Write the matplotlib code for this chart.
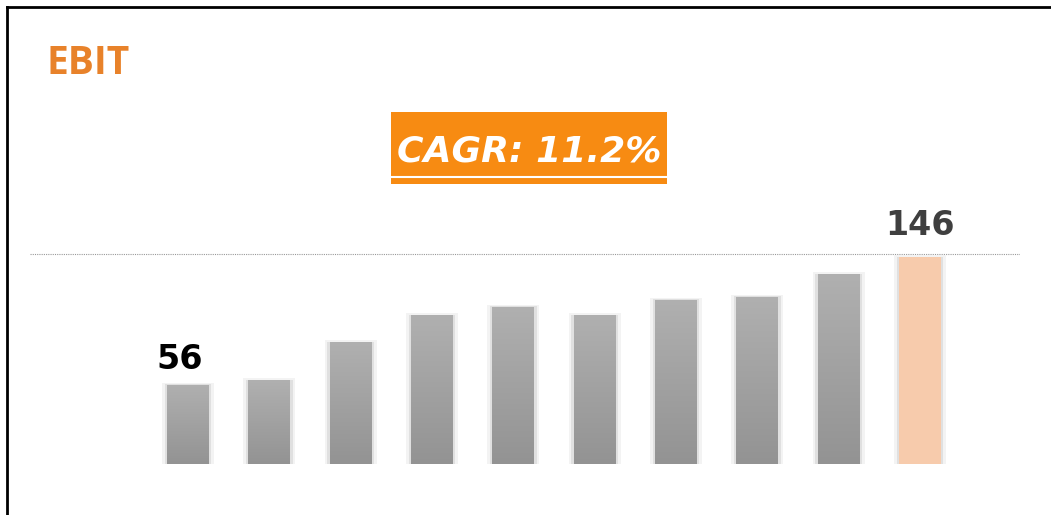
import matplotlib
matplotlib.use("Agg")
from matplotlib import pyplot as plt
from matplotlib.patches import Rectangle
import numpy as np

# EBIT per year
years = list(range(10))
ebit = [56, 59, 86, 105, 111, 105, 116, 118, 134, 146]
title = "EBIT"
cagr_text = "CAGR: 11.2%"
labels = {0: "56", 9: "146"}

W, H = 1051, 515
fig = plt.figure(figsize=(W / 100, H / 100), dpi=100)
fig.patch.set_facecolor("white")

# axes: value 0 at pixel 464, pixel spacing ~1.416 per unit
ax = fig.add_axes([30 / W, (H - 464) / H, 990 / W, 300 / H])
ax.set_xlim(-1.943, 10.23)
ax.set_ylim(0, 300 / 1.4158)
ax.axis("off")

bw = 0.516
grad = np.linspace(0, 1, 256).reshape(-1, 1)
cmap = matplotlib.colors.LinearSegmentedColormap.from_list("g", ["#939393", "#b0b0b0"])
for i, (x, v) in enumerate(zip(years, ebit)):
    # soft halo
    ax.add_patch(Rectangle((x - bw / 2 - 0.06, 0), bw + 0.12, v + 1.5,
                           facecolor="#f3f3f3", edgecolor="none", zorder=1))
    ax.add_patch(Rectangle((x - bw / 2 - 0.03, 0), bw + 0.06, v + 0.5,
                           facecolor="#e0e0e0", edgecolor="none", zorder=1))
    if i == len(ebit) - 1:
        ax.add_patch(Rectangle((x - bw / 2, 0), bw, v,
                               facecolor="#f7cbac", edgecolor="none", zorder=2))
    else:
        img = ax.imshow(grad, cmap=cmap, origin="lower",
                        extent=[x - bw / 2, x + bw / 2, 0, v], aspect="auto", zorder=2)
        clip = Rectangle((x - bw / 2, 0), bw, v, transform=ax.transData)
        img.set_clip_path(clip)

ax.axhline(148, color="#999999", lw=0.8, ls=(0, (1, 1)), zorder=0)

ax.text(years[0] - 0.1, ebit[0] + 6, labels[0], ha="center", va="bottom",
        fontsize=24, fontweight="bold", color="black", family="DejaVu Sans")
ax.text(years[9], ebit[9] + 11, labels[9], ha="center", va="bottom",
        fontsize=24, fontweight="bold", color="#3f3f3f", family="DejaVu Sans")

fig.text(46 / W, 1 - 63 / H, title, ha="left", va="center", fontsize=28,
         fontweight="bold", color="#e8822a", family="Open Sans")

# CAGR box
fig.add_artist(Rectangle((391 / W, 1 - 184 / H), 276 / W, 72 / H,
                         transform=fig.transFigure, facecolor="#f78b12",
                         edgecolor="none"))
fig.text(529 / W, 1 - 151 / H, cagr_text, ha="center", va="center",
         fontsize=26, fontweight="bold", style="italic", color="white",
         family="DejaVu Sans")
fig.add_artist(plt.Line2D([392 / W, 666 / W], [1 - 177 / H, 1 - 177 / H],
                          transform=fig.transFigure, color="white", lw=1.5))

# frame on left and top
fig.add_artist(plt.Line2D([7 / W, 7 / W], [0, 1 - 7 / H], transform=fig.transFigure,
                          color="black", lw=2))
fig.add_artist(plt.Line2D([7 / W, 1], [1 - 7 / H, 1 - 7 / H], transform=fig.transFigure,
                          color="black", lw=2))

fig.savefig("out.png", dpi=100)
